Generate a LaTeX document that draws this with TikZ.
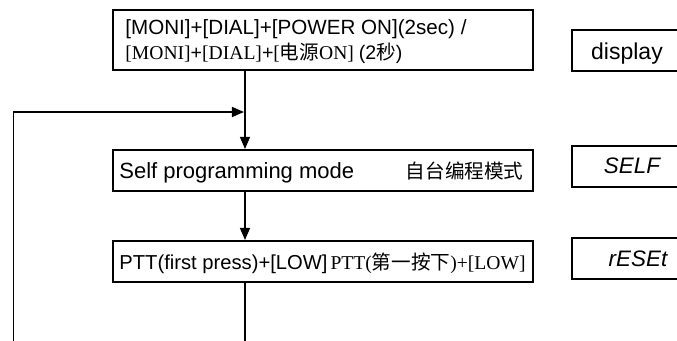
\documentclass[tikz,border=0pt]{standalone}
\usepackage{fontspec}
\setmainfont{Liberation Serif}
\setsansfont{Liberation Sans}
\newfontfamily\cjk{Noto Sans CJK SC}
\usetikzlibrary{arrows.meta}
\begin{document}
\begin{tikzpicture}[x=0.5pt,y=-0.5pt,
  box/.style={draw, line width=1pt, minimum width=210pt, minimum height=20.5pt, inner sep=0pt},
  rbox/.style={draw, line width=1pt, minimum height=20.5pt, minimum width=75pt, inner sep=0pt, anchor=west},
  txt/.style={anchor=base west, inner sep=0pt, font=\sffamily\fontsize{10.3}{12}\selectfont},
  rtxt/.style={anchor=base, inner sep=0pt, font=\sffamily\itshape\fontsize{11.2}{13}\selectfont},
  conn/.style={line width=0.65pt},
  arr/.style={conn, -{Triangle[length=6pt,width=5pt]}}]
\useasboundingbox (0,0) rectangle (677,341);
\clip (0,0) rectangle (677,341);
% boxes
\node[box, minimum height=30pt] (b1) at (323,40) {};
\node[box] (b2) at (323,170.5) {};
\node[box] (b3) at (323,261.5) {};
\node[rbox] (r1) at (571,50.5) {};
\node[rbox] (r2) at (571,166.5) {};
\node[rbox] (r3) at (571,259) {};
% texts
\node[txt] (t1a) at (125,35) {[MONI]+[DIAL]+[POWER ON](2sec) /};
\node[txt, font=\fontsize{9.8}{12}\selectfont] (t1b) at (125,60) {[MONI]\textsf{+}[DIAL]\textsf{+}[{\cjk 电源}ON] \textsf{(2{\cjk 秒})}};
\node[txt, font=\sffamily\fontsize{11}{13}\selectfont] (t2a) at (119,179) {Self programming mode};
\node[txt, anchor=base east, font=\cjk\fontsize{9.8}{12}\selectfont] (t2b) at (524,179) {自台编程模式};
\node[txt, font=\sffamily\fontsize{10.1}{12}\selectfont] (t3a) at (119,270) {PTT(first press)+[LOW]};
\node[txt, anchor=base east, font=\fontsize{9.8}{12}\selectfont] (t3b) at (526,270) {PTT({\cjk 第一按下})+[LOW]};
\node[rtxt, font=\sffamily\fontsize{11.5}{13}\selectfont] (rt1) at (627,60) {display};
\node[rtxt] (rt2) at (632,174) {SELF};
\node[rtxt] (rt3) at (638,267) {rESEt};
% connectors
\coordinate (vx) at (245,0);
\coordinate (bot) at (245,350);
\coordinate (lb) at (13.5,350);
\coordinate (lt) at (13.5,112);
\draw[arr] (b1.south -| vx) -- (b2.north -| vx);
\draw[arr] (b2.south -| vx) -- (b3.north -| vx);
\draw[conn] (b3.south -| vx) -- (bot);
\draw[conn] (lb) -- (lt);
\draw[arr] (lt) -- ([xshift=-0.5pt]lt -| vx);
\end{tikzpicture}
\end{document}
